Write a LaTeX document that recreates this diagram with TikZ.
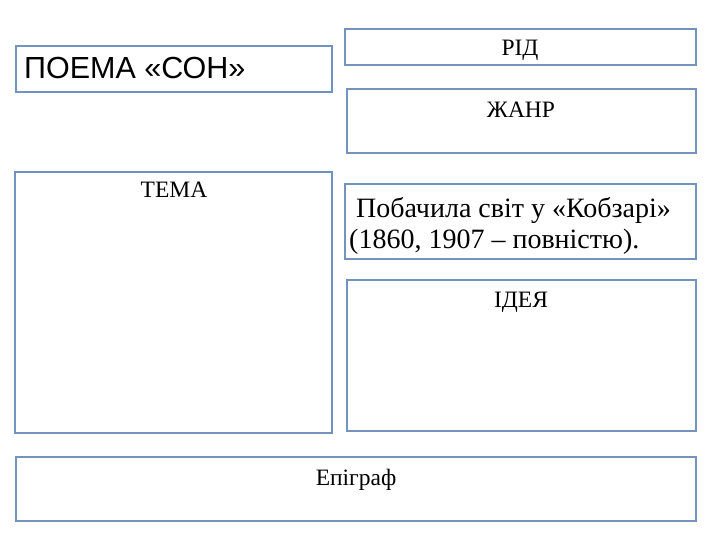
\documentclass[tikz,border=0pt]{standalone}
\usepackage{fontspec}
\setmainfont{Liberation Serif}
\newfontfamily\arialf{Liberation Sans}
\definecolor{boxblue}{HTML}{7393BF}
\begin{document}
\begin{tikzpicture}[x=1pt,y=-1pt,
  box/.style={draw=boxblue,line width=1.8pt,fill=white},
  lbl/.style={anchor=base,inner sep=0pt,font=\fontsize{23.5}{28}\selectfont},
  big/.style={anchor=base west,inner sep=0pt,font=\fontsize{28}{30}\selectfont}]
\useasboundingbox (0,0) rectangle (720,540);
\draw[box] (16,46) rectangle (332,92);
\node[anchor=base west,inner sep=0pt,font=\arialf\fontsize{30.5}{34}\selectfont] (poema) at (24,79) {ПОЕМА «СОН»};
\draw[box] (345,29) rectangle (696,65);
\node[lbl] (rid) at (520,56) {РІД};
\draw[box] (347,89) rectangle (696,153);
\node[lbl] (zhanr) at (521,118) {ЖАНР};
\draw[box] (15,172) rectangle (332,433);
\node[lbl] (tema) at (174,198) {ТЕМА};
\draw[box] (345,184) rectangle (696,259);
\node[big] (pob1) at (356,218) {Побачила світ у «Кобзарі»};
\node[big] (pob2) at (349,248) {(1860, 1907 – повністю).};
\draw[box] (347,280) rectangle (696,431);
\node[lbl] (ideya) at (521,307) {ІДЕЯ};
\draw[box] (16,457) rectangle (696,521);
\node[lbl] (epi) at (356,485) {Епіграф};
\end{tikzpicture}
\end{document}
